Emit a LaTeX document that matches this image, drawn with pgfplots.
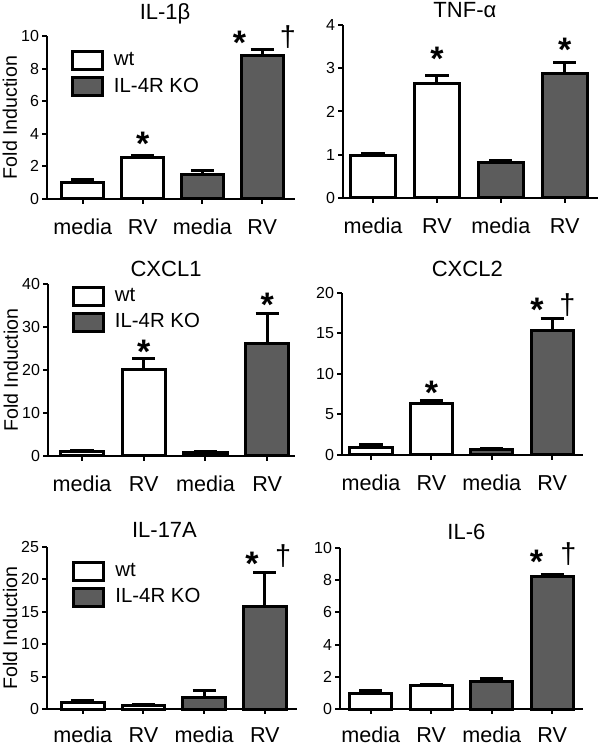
\documentclass[border=0pt]{standalone}
\usepackage{fontspec}
\setmainfont{Liberation Sans}
\usepackage{pgfplots}
\pgfplotsset{compat=1.18}
\definecolor{ko}{RGB}{92,92,92}
\newcommand\legfont{\fontsize{10.2}{11}\selectfont}
\tikzset{
  star/.style={font=\fontsize{17}{17}\selectfont\bfseries, anchor=base, yshift=-9.4pt, inner sep=0pt},
  dag/.style={font=\fontsize{14.4}{15}\selectfont, anchor=base, yshift=-4.3pt, inner sep=0pt},
}
\pgfplotsset{
  every axis title shift=0pt,
  panel/.style={
    scale only axis, anchor=south west, clip=false,
    axis lines=left, axis line style={-, line width=1pt},
    ybar, bar width=0.7, /pgf/bar shift=0pt,
    ymin=0,
    xtick={0,1,2,3}, xticklabels={media,RV,media,RV},
    tick align=outside, major tick length=2.3pt,
    tick style={line width=1pt, black},
    /pgf/number format/assume math mode=true,
    yticklabel style={font=\fontsize{8}{9}\selectfont, inner sep=1.5pt},
    xticklabel style={font=\fontsize{10.8}{11}\selectfont, anchor=base, yshift=-15.5pt},
    title style={anchor=base, font=\fontsize{11}{12}\selectfont},
    ylabel style={font=\fontsize{9.8}{11}\selectfont},
    error bars/y dir=plus, error bars/y explicit,
    error bars/error bar style={line width=1.5pt, black},
    error bars/error mark options={rotate=90, line width=1.5pt, black, mark size=5.8pt},
    legend image code/.code={\draw[#1, line width=1.5pt, draw=black] (0pt,-4.5pt) rectangle (15pt,4.5pt);},
    legend cell align=left,
  },
  bottomrow/.style={xticklabel style={yshift=1.2pt}},
  wt/.style={fill=white, draw=black, line width=1.5pt},
  kot/.style={fill=ko, draw=black, line width=1.5pt},
  leg/.style={legend style={draw=none, fill=none, anchor=north west, at={#1}, inner sep=0pt, row sep=0.5pt,
      font=\legfont, nodes={font=\legfont}, /tikz/every odd column/.append style={column sep=3pt}}},
}
\begin{document}
\begin{tikzpicture}
\useasboundingbox (0,0) rectangle (300pt,372pt);
% IL-1beta
\begin{axis}[panel, at={(23.5pt,272.5pt)}, width=124pt, height=81.5pt,
  xmin=-0.6, xmax=3.55, ymax=10, ytick={0,2,4,6,8,10},
  title={IL-1β}, title style={at={(axis description cs:0.476,1)}, yshift=8pt},
  ylabel={Fold Induction}, ylabel style={at={(axis description cs:-0.15,0.5)}, anchor=center},
  leg={(axis description cs:0.095,0.925)}]
\addplot[wt] coordinates {(0,1.0) +- (0,0.2) (1,2.55) +- (0,0.12)};
\addplot[kot] coordinates {(2,1.53) +- (0,0.22) (3,8.8) +- (0,0.4)};
\legend{{\legfont wt},{\legfont IL-4R KO}}
\node[star] at (axis cs:1,3.8) {*};
\node[star] at (axis cs:2.62,10.0) {*};
\node[dag] at (axis cs:3.43,9.9) {†};
\end{axis}
% TNF-alpha
\begin{axis}[panel, at={(171.5pt,273pt)}, width=127.5pt, height=86.5pt,
  xmin=-0.47, xmax=3.52, ymax=4, ytick={0,1,2,3,4},
  title={TNF-α}, title style={at={(axis description cs:0.478,1)}, yshift=3.5pt}]
\addplot[wt] coordinates {(0,0.98) +- (0,0.04) (1,2.64) +- (0,0.19)};
\addplot[kot] coordinates {(2,0.81) +- (0,0.05) (3,2.87) +- (0,0.26)};
\node[star] at (axis cs:1,3.38) {*};
\node[star] at (axis cs:3,3.58) {*};
\end{axis}
% CXCL1
\begin{axis}[panel, at={(24pt,144pt)}, width=123.5pt, height=86pt,
  xmin=-0.55, xmax=3.45, ymax=40, ytick={0,10,20,30,40},
  title={CXCL1}, title style={at={(axis description cs:0.478,1)}, yshift=3.5pt},
  ylabel={Fold Induction}, ylabel style={at={(axis description cs:-0.15,0.5)}, anchor=center},
  leg={(axis description cs:0.095,1.0)}]
\addplot[wt] coordinates {(0,1.0) +- (0,0.3) (1,20.0) +- (0,2.6)};
\addplot[kot] coordinates {(2,0.8) +- (0,0.3) (3,26.2) +- (0,6.9)};
\legend{{\legfont wt},{\legfont IL-4R KO}}
\node[star] at (axis cs:1,25.8) {*};
\node[star] at (axis cs:3,36.7) {*};
\end{axis}
% CXCL2
\begin{axis}[panel, at={(171pt,144.5pt)}, width=120.5pt, height=81pt,
  xmin=-0.48, xmax=3.51, ymax=20, ytick={0,5,10,15,20},
  title={CXCL2}, title style={at={(axis description cs:0.52,1)}, yshift=8pt}]
\addplot[wt] coordinates {(0,0.95) +- (0,0.35) (1,6.3) +- (0,0.4)};
\addplot[kot] coordinates {(2,0.65) +- (0,0.12) (3,15.4) +- (0,1.5)};
\node[star] at (axis cs:1,8.6) {*};
\node[star] at (axis cs:2.75,18.8) {*};
\node[dag] at (axis cs:3.25,18.4) {†};
\end{axis}
% IL-17A
\begin{axis}[panel, bottomrow, at={(23.5pt,17.5pt)}, width=125pt, height=81pt,
  xmin=-0.59, xmax=3.53, ymax=25, ytick={0,5,10,15,20,25},
  title={IL-17A}, title style={at={(axis description cs:0.47,1)}, yshift=4.5pt},
  ylabel={Fold Induction}, ylabel style={at={(axis description cs:-0.148,0.5)}, anchor=center},
  leg={(axis description cs:0.1,0.925)}]
\addplot[wt] coordinates {(0,0.95) +- (0,0.4) (1,0.5) +- (0,0.2)};
\addplot[kot] coordinates {(2,1.7) +- (0,1.15) (3,15.8) +- (0,5.3)};
\legend{{\legfont wt},{\legfont IL-4R KO}}
\node[star] at (axis cs:2.79,23.5) {*};
\node[dag] at (axis cs:3.3,23.5) {†};
\end{axis}
% IL-6
\begin{axis}[panel, bottomrow, at={(170pt,17.5pt)}, width=121.5pt, height=80.5pt,
  xmin=-0.51, xmax=3.51, ymax=10, ytick={0,2,4,6,8,10},
  title={IL-6}, title style={at={(axis description cs:0.52,1)}, yshift=4pt}]
\addplot[wt] coordinates {(0,0.98) +- (0,0.17) (1,1.48) +- (0,0.03)};
\addplot[kot] coordinates {(2,1.7) +- (0,0.18) (3,8.23) +- (0,0.14)};
\node[star] at (axis cs:2.74,9.6) {*};
\node[dag] at (axis cs:3.27,9.6) {†};
\end{axis}
\end{tikzpicture}
\end{document}
